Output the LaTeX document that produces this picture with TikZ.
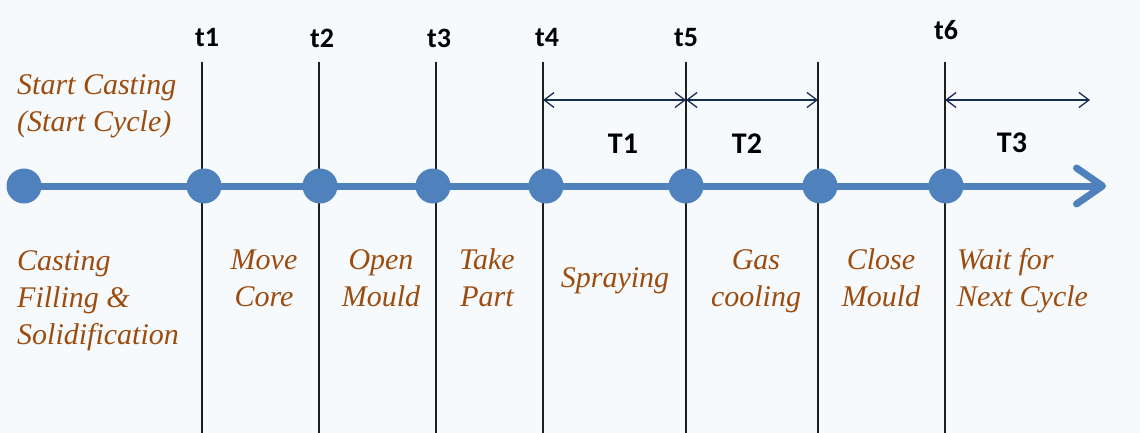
\documentclass[tikz,border=0pt]{standalone}
\usepackage{fontspec}
\setmainfont{Liberation Serif}
\newfontfamily\sansface{Carlito}
\usetikzlibrary{arrows.meta}
\definecolor{bgc}{RGB}{246,250,253}
\definecolor{tlblue}{RGB}{79,129,189}
\definecolor{brn}{RGB}{156,76,14}
\definecolor{navy}{RGB}{23,45,80}
\newcommand{\stepc}[1]{\begin{tabular}{@{}c@{}}#1\end{tabular}}
\newcommand{\stepl}[1]{\begin{tabular}{@{}l@{}}#1\end{tabular}}
\begin{document}
\begin{tikzpicture}[x=1pt,y=-1pt,
  dotnode/.style={circle,fill=tlblue,minimum size=35pt,inner sep=0pt},
  guideline/.style={draw=black!88,line width=1.4pt},
  timeline/.style={draw=tlblue,line width=7pt,-{Straight Barb[length=26pt,width=36pt,round]}},
  dimarrow/.style={draw=navy,line width=1.3pt,{Straight Barb[length=10pt,width=15pt]}-{Straight Barb[length=10pt,width=15pt]}},
  timelabel/.style={font=\sansface\bfseries\fontsize{28}{32}\selectfont,inner sep=0pt},
  spanlabel/.style={font=\sansface\bfseries\fontsize{30}{34}\selectfont,inner sep=0pt},
  steplabel/.style={font=\rmfamily\itshape\fontsize{30}{37}\selectfont\color{brn},inner sep=0pt},
]
\useasboundingbox (0,0) rectangle (1140,433);
\fill[bgc] (0,0) rectangle (1140,433);

% guide line end points
\foreach \n/\x in {1/202,2/319,3/436,4/543,5/686,6/818,7/945}{
  \coordinate (g\n top) at (\x,62);
  \coordinate (g\n bot) at (\x,433);
}
% dimension end points
\coordinate (d4) at (543,100);
\coordinate (d5) at (686,100);
\coordinate (d6) at (818,100);
\coordinate (d7) at (945,100);
\coordinate (d8) at (1090,100);
\coordinate (p0c) at (24,186);
\coordinate (tip) at (1106,186);

\foreach \n in {1,...,7}{\draw[guideline] (g\n top) -- (g\n bot);}
\draw[timeline] (p0c) -- (tip);

% dots
\node[dotnode] (p0) at (p0c) {};
\node[dotnode] (p1) at (204,186) {};
\node[dotnode] (p2) at (320,186) {};
\node[dotnode] (p3) at (433,186) {};
\node[dotnode] (p4) at (546,186) {};
\node[dotnode] (p5) at (686,186) {};
\node[dotnode] (p6) at (820,186) {};
\node[dotnode] (p7) at (946,186) {};

% dimension arrows
\draw[dimarrow] (d4) -- (d5);
\draw[dimarrow] (d5) -- (d6);
\draw[dimarrow] (d7) -- (d8);

% time labels
\node[timelabel] (t1) at (207,38) {t1};
\node[timelabel] (t2) at (322,38) {t2};
\node[timelabel] (t3) at (439,38) {t3};
\node[timelabel] (t4) at (547,38) {t4};
\node[timelabel] (t5) at (686,38) {t5};
\node[timelabel] (t6) at (946,30) {t6};

\node[spanlabel] (T1) at (623,144) {T1};
\node[spanlabel] (T2) at (747,144) {T2};
\node[spanlabel] (T3) at (1012,143) {T3};

% phase labels
\node[steplabel,anchor=west] (start) at (17,106) {\stepl{Start Casting\\(Start Cycle)}};
\node[steplabel,anchor=west] (cast) at (17,300) {\stepl{Casting\\Filling \&\\Solidification}};
\node[steplabel] (move) at (264,281) {\stepc{Move\\Core}};
\node[steplabel] (open) at (381,281) {\stepc{Open\\Mould}};
\node[steplabel] (take) at (487,281) {\stepc{Take\\Part}};
\node[steplabel] (spray) at (615,281) {Spraying};
\node[steplabel] (gas) at (756,281) {\stepc{Gas\\cooling}};
\node[steplabel] (close) at (881,281) {\stepc{Close\\Mould}};
\node[steplabel,anchor=west] (wait) at (957,281) {\stepl{Wait for\\Next Cycle}};
\end{tikzpicture}
\end{document}
